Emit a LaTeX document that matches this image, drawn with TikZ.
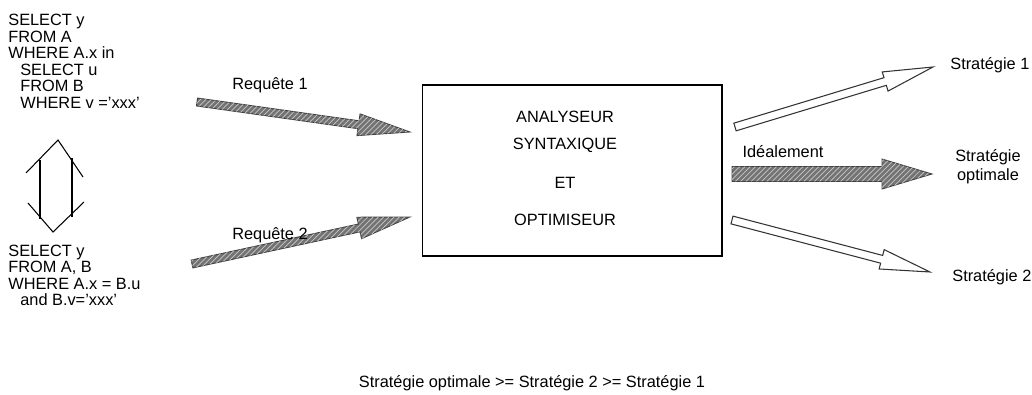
\documentclass[tikz,border=0pt]{standalone}
\usepackage{fontspec}
\setmainfont{Liberation Sans}
\usetikzlibrary{calc,patterns}

% block arrow: [style]{from}{to}{half shaft}{half head}{head length}
\newcommand{\blockarrow}[6][]{%
	\coordinate (bh) at ($(#3)!#6!(#2)$);
	\draw[#1] ($(#2)!#4!90:(#3)$) -- ($(bh)!#4!90:(#3)$) -- ($(bh)!#5!90:(#3)$) -- (#3)
		-- ($(bh)!#5!-90:(#3)$) -- ($(bh)!#4!-90:(#3)$) -- ($(#2)!#4!-90:(#3)$) -- cycle;
}

\begin{document}
\begin{tikzpicture}[x=0.02cm, y=-0.02cm, font=\fontsize{9.3}{11}\selectfont,
	hatched/.style={fill=black!55, draw=black!75, line width=0.5pt, postaction={pattern=north east lines, pattern color=black!22}},
	hollow/.style={fill=white, draw=black!80, line width=0.6pt}]
	\useasboundingbox (0,0) rectangle (1032,395);
	
	\coordinate (R1a) at (197,102);
	\coordinate (R1b) at (410,132);
	\coordinate (R2a) at (192,264);
	\coordinate (R2b) at (410,217);
	\coordinate (Ia) at (732,174);
	\coordinate (Ib) at (932,174);
	\coordinate (S1a) at (735,127);
	\coordinate (S1b) at (933,67);
	\coordinate (S2a) at (732,220);
	\coordinate (S2b) at (930,272);
	
	% analyseur
	\node[draw, line width=0.6pt, minimum width=6cm, minimum height=3.42cm, inner sep=0] (box) at (572,170.5) {};
	\foreach \y/\t [count=\i] in {117/ANALYSEUR, 145/SYNTAXIQUE, 183/ET, 220/OPTIMISEUR}
		\node (a\i) at (565,\y) {\t};
	
	% arrows
	\blockarrow[hatched]{R1a}{R1b}{0.08cm}{0.22cm}{1.04cm}
	\blockarrow[hatched]{R2a}{R2b}{0.08cm}{0.22cm}{1.04cm}
	\blockarrow[hatched]{Ia}{Ib}{0.15cm}{0.3cm}{1cm}
	\blockarrow[hollow]{S1a}{S1b}{0.08cm}{0.2cm}{1cm}
	\blockarrow[hollow]{S2a}{S2b}{0.08cm}{0.2cm}{1cm}
	
	% equivalence
	\coordinate (E1) at (58,140);
	\coordinate (E2) at (53,232);
	\draw[line width=0.6pt] (26,173) -- (E1) -- (83,177);
	\draw[line width=0.6pt] (40,160) -- (40,219) (72,158) -- (72,217);
	\draw[line width=0.6pt] (28,203) -- (E2) -- (84,202);
	
	% queries
	\foreach \y/\x/\t [count=\i] in {26/8/SELECT y, 42.5/8/FROM A, 59/8/WHERE A.x in, 75.5/20/SELECT u, 92/20/FROM B, 108.5/20/{WHERE v ='xxx'}}
		\node[anchor=base west, inner sep=0] (p\i) at (\x,\y) {\t};
	\foreach \y/\x/\t [count=\i] in {256/8/SELECT y, 272.5/8/{FROM A, B}, 289/8/WHERE A.x = B.u, 305.5/20/and B.v='xxx'}
		\node[anchor=base west, inner sep=0] (q\i) at (\x,\y) {\t};
	
	% labels
	\node (l1) at (270,85) {Requête 1};
	\node (l2) at (270,235) {Requête 2};
	\node (li) at (783,152) {Idéalement};
	\node[anchor=west, inner sep=0] (s1) at (950,65) {Stratégie 1};
	\node[align=center] (so) at (988,167) {Stratégie\\optimale};
	\node[anchor=west, inner sep=0] (s2) at (952,277) {Stratégie 2};
	\node (cmp) at (532,383) {Stratégie optimale >= Stratégie 2 >= Stratégie 1};
\end{tikzpicture}
\end{document}
